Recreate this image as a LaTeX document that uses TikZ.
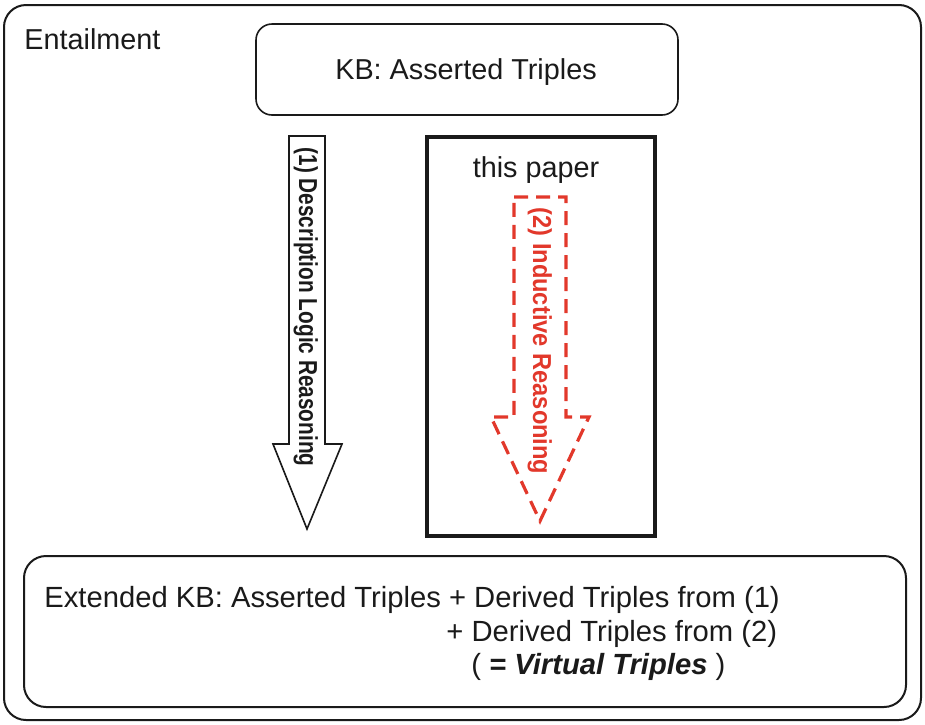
\documentclass[tikz,border=0pt]{standalone}
\usepackage{fontspec}
\setmainfont{Liberation Sans}
\definecolor{inkblk}{HTML}{1A1A1A}
\definecolor{indred}{HTML}{E2382B}
\tikzset{
  outerbox/.style={draw=inkblk, line width=1.0pt, rounded corners=11pt},
  kbbox/.style={draw=inkblk, line width=0.8pt, rounded corners=8pt},
  paperbox/.style={draw=inkblk, line width=1.6pt},
  dlarrow/.style={draw=inkblk, line width=0.8pt, fill=white, line join=miter},
  indarrow/.style={draw=indred, line width=1.6pt, dash pattern=on 7pt off 4pt},
  lbl/.style={font=\fontsize{14.4}{17}\selectfont, text=inkblk, inner sep=0pt},
  extlbl/.style={lbl, font=\fontsize{14.6}{17}\selectfont, anchor=base west},
  arrlbl/.style={font=\fontsize{13}{15}\selectfont\bfseries, inner sep=0pt, rotate=-90, anchor=base},
}
\begin{document}
\begin{tikzpicture}[x=0.5pt,y=-0.5pt]
  \useasboundingbox (0,0) rectangle (925,724);
  % frames
  \draw[outerbox] (4,5) rectangle (921,720);
  \draw[kbbox] (256,24) rectangle (678,115);
  \draw[paperbox] (427,137) rectangle (655,536);
  \draw[outerbox] (24,556) rectangle (906,707);
  % the two block arrows
  \draw[dlarrow] (289,136) -- (325,136) -- (325,444) -- (342,444) -- (307,529)
    -- (273,444) -- (289,444) -- cycle;
  \draw[indarrow] (514,197) -- (566,197) -- (566,417) -- (589,417) -- (540,521)
    -- (491,417) -- (514,417) -- cycle;
  % texts
  \node[lbl, anchor=base west] (ent) at (24,49) {Entailment};
  \node[lbl, anchor=base] (kb) at (466,79) {KB: Asserted Triples};
  \node[lbl, anchor=base] (paper) at (536,177) {this paper};
  \node[arrlbl, text=inkblk] (dl) at (299,307) {\scalebox{0.8}[1]{(1) Description Logic Reasoning}};
  \node[arrlbl, text=indred] (ind) at (533,341) {\scalebox{0.91}[1]{(2) Inductive Reasoning}};
  \node[extlbl] (ext1) at (44,607) {Extended KB: Asserted Triples + Derived Triples from (1)};
  \node[extlbl] (ext2) at (446,641) {+ Derived Triples from (2)};
  \node[extlbl] (ext3) at (471,674) {( \textbf{\textit{= Virtual Triples}} )};
\end{tikzpicture}
\end{document}
